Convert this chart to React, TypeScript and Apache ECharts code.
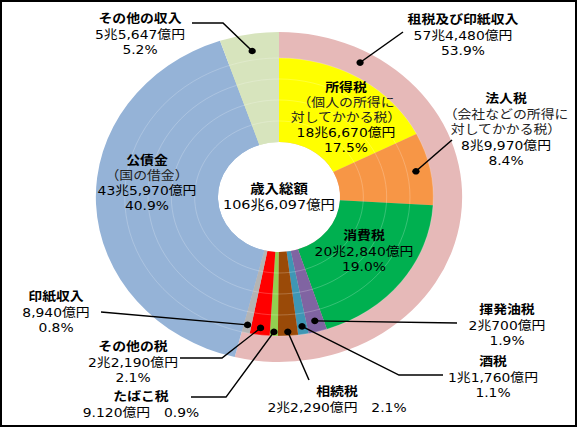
import { useEffect, useRef } from 'react';
import * as echarts from 'echarts';

// ---- data (億円) ----
const totalTitle = '歳入総額';
const totalAmount = '106兆6,097億円';

const outerNames = ['租税及び印紙収入', '公債金', 'その他の収入'];
const outerValues = [574480, 435970, 55647];
const outerAmounts = ['57兆4,480億円', '43兆5,970億円', '5兆5,647億円'];
const outerPcts = ['53.9%', '40.9%', '5.2%'];
const outerColors = ['#E6B9B8', '#95B3D7', '#D7E4BD'];

const innerNames = ['所得税', '法人税', '消費税', '揮発油税', '酒税', '相続税', 'たばこ税', 'その他の税', '印紙収入', '公債金', 'その他の収入'];
const innerValues = [186670, 89970, 202840, 20700, 11760, 22290, 9120, 22190, 8940, 435970, 55647];
const innerAmounts = ['18兆6,670億円', '8兆9,970億円', '20兆2,840億円', '2兆700億円', '1兆1,760億円', '2兆2,290億円', '9.120億円', '2兆2,190億円', '8,940億円', '43兆5,970億円', '5兆5,647億円'];
const innerPcts = ['17.5%', '8.4%', '19.0%', '1.9%', '1.1%', '2.1%', '0.9%', '2.1%', '0.8%', '40.9%', '5.2%'];
const innerNotes = ['（個人の所得に\n対してかかる税）', '（会社などの所得に\n対してかかる税）', '', '', '', '', '', '', '', '（国の借金）', ''];
const innerColors = ['#FFFF00', '#F79646', '#00B050', '#8064A2', '#3F96B4', '#9A4A08', '#92D050', '#FF0000', '#B4B4B4', '#95B3D7', '#D7E4BD'];

// ---- layout ----
const W = 577;
const H = 427;
const S = 1.11; // the picture is stretched horizontally
const CW = W / S;
const CX = 279 / S;
const CY = 197;
const R_HOLE = 55;
const R_INNER = 139;
const R_OUTER = 165;
const FONT = '"DejaVu Sans", "Noto Sans CJK JP", sans-serif';
const FS = 12.5;

type LabelSpec = {
  ring: 'inner' | 'outer';
  index: number;
  x: number; // original-picture coords
  y: number;
  gap?: number;
  inline?: boolean;
  dot?: { r: number; f: number };
  path?: [number, number][];
};

const labelSpecs: LabelSpec[] = [
  { ring: 'outer', index: 0, x: 463, y: 20, dot: { r: 153, f: 0.147 }, path: [[403, 32]] },
  { ring: 'outer', index: 2, x: 140, y: 19, dot: { r: 148, f: 0.5 }, path: [[192, 23], [223, 23]] },
  { ring: 'inner', index: 0, x: 346, y: 88, gap: 15 },
  { ring: 'inner', index: 1, x: 506, y: 99, dot: { r: 126, f: 0.5 }, path: [[452, 140]] },
  { ring: 'inner', index: 2, x: 364, y: 236 },
  { ring: 'inner', index: 3, x: 507, y: 310, dot: { r: 128, f: 0.5 }, path: [[457, 323]] },
  { ring: 'inner', index: 4, x: 493, y: 362, dot: { r: 131, f: 0.5 }, path: [[443, 375], [399, 375]] },
  { ring: 'inner', index: 5, x: 337, y: 392, inline: true, dot: { r: 135, f: 0.5 }, path: [[309, 380]] },
  { ring: 'inner', index: 6, x: 141, y: 397, inline: true, dot: { r: 135, f: 0.5 }, path: [[191, 397], [226, 397]] },
  { ring: 'inner', index: 7, x: 133, y: 347, dot: { r: 132, f: 0.5 }, path: [[180, 358], [222, 358]] },
  { ring: 'inner', index: 8, x: 56, y: 297, dot: { r: 131, f: 0.5 }, path: [[101, 312]] },
  { ring: 'inner', index: 9, x: 147, y: 161, gap: 15 },
];

const faintRings = [76, 97, 118, 139];

function sliceAngles(values: number[]) {
  const sum = values.reduce((a, b) => a + b, 0);
  let acc = 0;
  return values.map((v) => {
    const a0 = (acc / sum) * 360;
    acc += v;
    return [a0, (acc / sum) * 360];
  });
}

function polar(deg: number, r: number): [number, number] {
  const t = (deg * Math.PI) / 180;
  return [CX + r * Math.sin(t), CY - r * Math.cos(t)];
}

function textEl(text: string, x: number, y: number, bold: boolean, size = FS, fill = '#000') {
  return {
    type: 'text',
    z: 30,
    x,
    y,
    silent: true,
    style: {
      text,
      fill,
      fontSize: size,
      fontWeight: bold ? 'bold' : 'normal',
      fontFamily: FONT,
      textAlign: 'center',
      textVerticalAlign: 'middle',
      align: 'center',
      verticalAlign: 'middle',
    },
  };
}

function buildGraphics() {
  const els: any[] = [];
  faintRings.forEach((r) => {
    els.push({
      type: 'circle',
      z: 5,
      silent: true,
      shape: { cx: CX, cy: CY, r },
      style: { fill: 'none', stroke: 'rgba(255,255,255,0.25)', lineWidth: 0.8 },
    });
  });

  const outerAng = sliceAngles(outerValues);
  const innerAng = sliceAngles(innerValues);

  labelSpecs.forEach((sp) => {
    const isOuter = sp.ring === 'outer';
    const name = isOuter ? outerNames[sp.index] : innerNames[sp.index];
    const amount = isOuter ? outerAmounts[sp.index] : innerAmounts[sp.index];
    const pct = isOuter ? outerPcts[sp.index] : innerPcts[sp.index];
    const note = isOuter ? '' : innerNotes[sp.index];
    const gap = sp.gap ?? 15.5;
    const lx = sp.x / S;
    const lines: { t: string; bold: boolean; fill: string }[] = [{ t: name, bold: true, fill: '#000' }];
    if (note) note.split('\n').forEach((n) => lines.push({ t: n, bold: false, fill: '#222' }));
    if (sp.inline) {
      lines.push({ t: amount + '　' + pct, bold: false, fill: '#000' });
    } else {
      lines.push({ t: amount, bold: false, fill: '#000' });
      lines.push({ t: pct, bold: false, fill: '#000' });
    }
    lines.forEach((ln, i) => els.push(textEl(ln.t, lx, sp.y + i * gap, ln.bold, FS, ln.fill)));

    if (sp.dot) {
      const ang = isOuter ? outerAng[sp.index] : innerAng[sp.index];
      const deg = ang[0] + (ang[1] - ang[0]) * sp.dot.f;
      const d = polar(deg, sp.dot.r);
      const pts = (sp.path || []).map(([px, py]) => [px / S, py] as [number, number]);
      pts.push(d);
      els.push({
        type: 'polyline',
        z: 25,
        silent: true,
        shape: { points: pts },
        style: { stroke: '#000', lineWidth: 1.3, fill: 'none' },
      });
      els.push({
        type: 'circle',
        z: 26,
        silent: true,
        shape: { cx: d[0], cy: d[1], r: 3.3 },
        style: { fill: '#000' },
      });
    }
  });

  els.push(textEl(totalTitle, CX, 188, true, 13));
  els.push(textEl(totalAmount, CX, 204, false, 13));
  return els;
}

export default function App() {
  const ref = useRef<HTMLDivElement>(null);
  useEffect(() => {
    const el = ref.current;
    if (!el) return;
    const chart = echarts.init(el, null, { renderer: 'svg', width: CW, height: H });
    chart.setOption({
      animation: false,
      backgroundColor: '#fff',
      series: [
        {
          type: 'pie',
          silent: true,
          z: 1,
          center: [CX, CY],
          radius: [R_HOLE, R_OUTER],
          startAngle: 90,
          clockwise: true,
          label: { show: false },
          labelLine: { show: false },
          emphasis: { disabled: true },
          itemStyle: { borderWidth: 0 },
          data: outerNames.map((n, i) => ({ name: n, value: outerValues[i], itemStyle: { color: outerColors[i] } })),
        },
        {
          type: 'pie',
          silent: true,
          z: 2,
          center: [CX, CY],
          radius: [R_HOLE, R_INNER],
          startAngle: 90,
          clockwise: true,
          label: { show: false },
          labelLine: { show: false },
          emphasis: { disabled: true },
          itemStyle: { borderWidth: 0 },
          data: innerNames.map((n, i) => ({ name: n, value: innerValues[i], itemStyle: { color: innerColors[i] } })),
        },
      ],
      graphic: { elements: buildGraphics() },
    });
    return () => chart.dispose();
  }, []);

  return (
    <div style={{ position: 'fixed', left: 0, top: 0, width: W, height: H, overflow: 'hidden', background: '#fff' }}>
      <div
        ref={ref}
        style={{ position: 'absolute', left: 0, top: 0, width: CW, height: H, transform: `scaleX(${S})`, transformOrigin: '0 0' }}
      />
      <div
        style={{ position: 'absolute', left: 0, top: 0, width: W, height: H, border: '2px solid #000', boxSizing: 'border-box', pointerEvents: 'none' }}
      />
    </div>
  );
}
